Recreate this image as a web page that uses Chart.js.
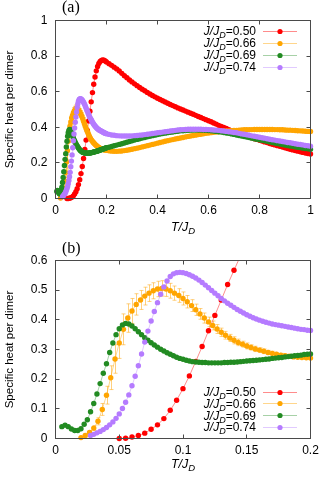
<!DOCTYPE html>
<html><head><meta charset="utf-8">
<script src="https://cdn.jsdelivr.net/npm/chart.js@4/dist/chart.umd.min.js"></script>
<style>
html,body{margin:0;padding:0;background:#fff;}
#wrap{position:relative;width:327px;height:484px;overflow:hidden;}
canvas{position:absolute;left:0;}
#ca{top:0;width:327px;height:242px;}
#cb{top:242px;width:327px;height:242px;}
</style></head><body>
<div id="wrap"><canvas id="ca" width="327" height="242"></canvas><canvas id="cb" width="327" height="242"></canvas></div>
<script>
// ---------- legend / series names ----------
const RATIOS = ['0.50', '0.66', '0.69', '0.74'];

// ---------- panel (b): low temperature data ----------
const T_B_RED = [0.050,0.055,0.060,0.065,0.070,0.075,0.080,0.085,0.090,0.095,0.100,0.105,0.110,0.115,0.120,0.125,0.130,0.135,0.140,0.145];
const C_B_RED = [0.000,0.001,0.005,0.010,0.018,0.031,0.046,0.067,0.095,0.129,0.168,0.211,0.260,0.310,0.363,0.415,0.467,0.519,0.567,0.615];

const T_B_ORA = [0.0200,0.0233,0.0267,0.0300,0.0333,0.0367,0.0400,0.0433,0.0467,0.0500,0.0533,0.0567,0.0600,0.0633,0.0667,0.0700,0.0733,0.0767,0.0800,0.0833,0.0867,0.0900,0.0933,0.0967,0.1000,0.1033,0.1067,0.1100,0.1133,0.1167,0.1200,0.1233,0.1267,0.1300,0.1333,0.1367,0.1400,0.1433,0.1467,0.1500,0.1533,0.1567,0.1600,0.1633,0.1667,0.1700,0.1733,0.1767,0.1800,0.1833,0.1867,0.1900,0.1933,0.1967,0.2000];
const C_B_ORA = [0.003,0.010,0.020,0.035,0.058,0.098,0.146,0.205,0.268,0.322,0.368,0.406,0.430,0.452,0.467,0.480,0.490,0.498,0.504,0.506,0.504,0.498,0.490,0.482,0.472,0.461,0.448,0.434,0.420,0.406,0.393,0.381,0.369,0.358,0.348,0.339,0.331,0.324,0.318,0.312,0.307,0.302,0.298,0.294,0.290,0.287,0.284,0.281,0.279,0.277,0.275,0.274,0.273,0.272,0.271];
const E_B_ORA = [0.004,0.005,0.006,0.008,0.012,0.020,0.030,0.040,0.048,0.052,0.052,0.048,0.042,0.036,0.032,0.030,0.028,0.027,0.026,0.026,0.025,0.025,0.024,0.023,0.022,0.021,0.020,0.019,0.018,0.017,0.016,0.015,0.015,0.014,0.013,0.012,0.012,0.011,0.010,0.010,0.009,0.009,0.008,0.008,0.007,0.007,0.006,0.006,0.006,0.005,0.005,0.005,0.004,0.004,0.004];

const T_B_GRN = [0.0050,0.0075,0.0100,0.0125,0.0150,0.0175,0.0200,0.0225,0.0250,0.0275,0.0300,0.0325,0.0350,0.0375,0.0400,0.0425,0.0450,0.0475,0.0500,0.0525,0.0550,0.0575,0.0600,0.0625,0.0650,0.0675,0.0700,0.0725,0.0750,0.0775,0.0800,0.0825,0.0850,0.0875,0.0900,0.0925,0.0950,0.0975,0.1000,0.1025,0.1050,0.1075,0.1100,0.1125,0.1150,0.1175,0.1200,0.1225,0.1250,0.1275,0.1300,0.1325,0.1350,0.1375,0.1400,0.1425,0.1450,0.1475,0.1500,0.1525,0.1550,0.1575,0.1600,0.1625,0.1650,0.1675,0.1700,0.1725,0.1750,0.1775,0.1800,0.1825,0.1850,0.1875,0.1900,0.1925,0.1950,0.1975,0.2000];
const C_B_GRN = [0.040,0.045,0.040,0.032,0.027,0.027,0.033,0.048,0.063,0.090,0.118,0.150,0.185,0.220,0.252,0.290,0.322,0.350,0.370,0.383,0.388,0.386,0.379,0.370,0.360,0.350,0.340,0.331,0.323,0.315,0.308,0.301,0.295,0.289,0.284,0.279,0.274,0.270,0.267,0.264,0.261,0.259,0.258,0.257,0.256,0.256,0.255,0.255,0.255,0.255,0.255,0.256,0.256,0.257,0.257,0.258,0.259,0.260,0.261,0.262,0.263,0.264,0.265,0.266,0.267,0.268,0.270,0.271,0.272,0.273,0.275,0.276,0.277,0.279,0.280,0.281,0.283,0.284,0.285];

const T_B_PUR = [0.0275,0.0300,0.0325,0.0350,0.0375,0.0400,0.0425,0.0450,0.0475,0.0500,0.0525,0.0550,0.0575,0.0600,0.0625,0.0650,0.0675,0.0700,0.0725,0.0750,0.0775,0.0800,0.0825,0.0850,0.0875,0.0900,0.0925,0.0950,0.0975,0.1000,0.1025,0.1050,0.1075,0.1100,0.1125,0.1150,0.1175,0.1200,0.1225,0.1250,0.1275,0.1300,0.1325,0.1350,0.1375,0.1400,0.1425,0.1450,0.1475,0.1500,0.1525,0.1550,0.1575,0.1600,0.1625,0.1650,0.1675,0.1700,0.1725,0.1750,0.1775,0.1800,0.1825,0.1850,0.1875,0.1900,0.1925,0.1950,0.1975,0.2000];
const C_B_PUR = [0.010,0.014,0.019,0.024,0.030,0.037,0.046,0.056,0.068,0.083,0.101,0.122,0.147,0.178,0.210,0.245,0.285,0.325,0.362,0.396,0.428,0.458,0.486,0.511,0.531,0.546,0.555,0.559,0.560,0.559,0.556,0.552,0.547,0.541,0.534,0.526,0.517,0.508,0.499,0.490,0.481,0.472,0.464,0.456,0.449,0.442,0.435,0.429,0.423,0.417,0.412,0.407,0.403,0.399,0.395,0.392,0.389,0.386,0.384,0.382,0.380,0.378,0.376,0.374,0.372,0.370,0.368,0.367,0.365,0.364];

// ---------- panel (a): full temperature range ----------
const T_A_RED = [0.045,0.050,0.055,0.060,0.065,0.070,0.075,0.080,0.085,0.090,0.095,0.100,0.105,0.110,0.115,0.120,0.125,0.130,0.135,0.140,0.145,0.150,0.155,0.160,0.165,0.170,0.175,0.180,0.185,0.190,0.195,0.200];
const C_A_RED = [0.000,0.000,0.002,0.004,0.008,0.015,0.025,0.038,0.055,0.078,0.106,0.140,0.180,0.225,0.275,0.328,0.382,0.436,0.490,0.543,0.595,0.642,0.683,0.717,0.742,0.759,0.770,0.776,0.778,0.777,0.773,0.767];

const T_A_HI = [0.21,0.22,0.23,0.24,0.25,0.26,0.27,0.28,0.29,0.30,0.31,0.32,0.33,0.34,0.35,0.36,0.37,0.38,0.39,0.40,0.41,0.42,0.43,0.44,0.45,0.46,0.47,0.48,0.49,0.50,0.51,0.52,0.53,0.54,0.55,0.56,0.57,0.58,0.59,0.60,0.61,0.62,0.63,0.64,0.65,0.66,0.67,0.68,0.69,0.70,0.71,0.72,0.73,0.74,0.75,0.76,0.77,0.78,0.79,0.80,0.81,0.82,0.83,0.84,0.85,0.86,0.87,0.88,0.89,0.90,0.91,0.92,0.93,0.94,0.95,0.96,0.97,0.98,0.99,1.00];
const C_A_RED_HI = [0.757,0.748,0.738,0.728,0.716,0.703,0.690,0.678,0.666,0.655,0.644,0.634,0.624,0.614,0.605,0.596,0.587,0.579,0.571,0.563,0.556,0.549,0.542,0.535,0.528,0.522,0.516,0.509,0.503,0.497,0.491,0.485,0.479,0.473,0.467,0.461,0.455,0.449,0.443,0.437,0.431,0.424,0.418,0.411,0.405,0.399,0.393,0.387,0.381,0.375,0.370,0.365,0.360,0.355,0.350,0.345,0.341,0.336,0.332,0.327,0.323,0.318,0.314,0.309,0.305,0.301,0.297,0.293,0.289,0.285,0.281,0.277,0.273,0.270,0.266,0.263,0.259,0.256,0.253,0.250];
const C_A_ORA_HI = [0.268,0.266,0.265,0.265,0.266,0.267,0.269,0.271,0.274,0.277,0.280,0.283,0.286,0.290,0.293,0.297,0.300,0.304,0.307,0.311,0.315,0.318,0.322,0.325,0.328,0.331,0.334,0.337,0.340,0.343,0.346,0.349,0.351,0.354,0.356,0.359,0.361,0.364,0.366,0.368,0.370,0.372,0.373,0.375,0.376,0.378,0.379,0.380,0.381,0.382,0.383,0.384,0.385,0.386,0.386,0.387,0.387,0.388,0.388,0.388,0.388,0.388,0.388,0.388,0.388,0.387,0.387,0.386,0.386,0.385,0.384,0.384,0.383,0.382,0.381,0.380,0.379,0.378,0.377,0.376];
const C_A_GRN_HI = [0.288,0.292,0.296,0.300,0.304,0.308,0.312,0.316,0.320,0.324,0.328,0.332,0.336,0.340,0.343,0.347,0.350,0.353,0.356,0.359,0.362,0.365,0.367,0.370,0.372,0.374,0.376,0.378,0.380,0.381,0.382,0.383,0.384,0.385,0.385,0.385,0.385,0.384,0.383,0.382,0.381,0.379,0.377,0.375,0.373,0.371,0.368,0.366,0.363,0.360,0.357,0.354,0.351,0.348,0.345,0.342,0.339,0.336,0.333,0.330,0.327,0.324,0.321,0.318,0.315,0.312,0.309,0.306,0.303,0.300,0.298,0.295,0.293,0.290,0.288,0.286,0.283,0.281,0.279,0.277];
const C_A_PUR_HI = [0.360,0.357,0.355,0.353,0.352,0.351,0.351,0.351,0.351,0.352,0.353,0.354,0.356,0.357,0.359,0.361,0.363,0.365,0.367,0.369,0.371,0.373,0.375,0.377,0.379,0.381,0.383,0.385,0.386,0.387,0.388,0.389,0.389,0.389,0.389,0.389,0.389,0.388,0.388,0.387,0.386,0.385,0.384,0.383,0.381,0.379,0.377,0.375,0.373,0.371,0.369,0.366,0.363,0.361,0.358,0.355,0.352,0.350,0.347,0.344,0.341,0.339,0.336,0.333,0.330,0.328,0.325,0.323,0.320,0.318,0.315,0.313,0.310,0.308,0.305,0.303,0.301,0.298,0.296,0.294];

// ---------- tick values ----------
const X_TICKS_A = [0, 0.2, 0.4, 0.6, 0.8, 1];
const Y_TICKS_A = [0, 0.2, 0.4, 0.6, 0.8, 1];
const X_TICKS_B = [0, 0.05, 0.1, 0.15, 0.2];
const Y_TICKS_B = [0, 0.1, 0.2, 0.3, 0.4, 0.5, 0.6];

// ---------- styling ----------
const FONT = "'Liberation Sans', Arial, sans-serif";
const COLORS = ['#ff0000', '#ffa500', '#228b22', '#b57bff'];
const PALE = ['rgba(255,0,0,0.45)', 'rgba(255,165,0,0.45)', 'rgba(34,139,34,0.4)', 'rgba(181,123,255,0.4)'];
const ERRC = 'rgba(255,170,20,0.55)';

function zip(xs, ys) { return xs.map((x, i) => ({x: x, y: ys[i]})); }
function fmt(v) { return String(+(+v).toFixed(3)); }

const errPlugin = {
  id: 'errbars',
  beforeDatasetsDraw(chart) {
    const {ctx, chartArea: a, scales: {x, y}} = chart;
    const cap = chart.options.plugins.gp.cap;
    ctx.save();
    ctx.beginPath(); ctx.rect(a.left, a.top, a.right - a.left, a.bottom - a.top); ctx.clip();
    chart.data.datasets.forEach(ds => {
      if (!ds.errors) return;
      ctx.strokeStyle = ERRC; ctx.lineWidth = 1;
      ctx.beginPath();
      ds.errors.forEach((e, j) => {
        const p = ds.data[j];
        const px = Math.round(x.getPixelForValue(p.x)) + 0.5;
        const y1 = y.getPixelForValue(p.y - e), y2 = y.getPixelForValue(p.y + e);
        ctx.moveTo(px, y1); ctx.lineTo(px, y2);
        ctx.moveTo(px - cap, y1); ctx.lineTo(px + cap, y1);
        ctx.moveTo(px - cap, y2); ctx.lineTo(px + cap, y2);
      });
      ctx.stroke();
    });
    ctx.restore();
  }
};

function drawLabel(ctx, parts, xRight, yBase) {
  let w = 0;
  parts.forEach(p => { ctx.font = p.font; p.w = ctx.measureText(p.t).width; w += p.w; });
  let cx = xRight - w;
  parts.forEach(p => { ctx.font = p.font; ctx.fillText(p.t, cx, yBase + (p.dy || 0)); cx += p.w; });
  return w;
}

const gpPlugin = {
  id: 'gp',
  afterDatasetsDraw(chart) {
    const {ctx, chartArea: a, scales: {x, y}} = chart;
    const o = chart.options.plugins.gp;
    ctx.save();
    ctx.strokeStyle = '#4a4a4a'; ctx.lineWidth = 1;
    ctx.strokeRect(a.left, a.top, a.right - a.left, a.bottom - a.top);
    const L = 4;
    ctx.beginPath();
    o.xt.forEach(v => {
      const px = Math.round(x.getPixelForValue(v) - 0.5) + 0.5;
      ctx.moveTo(px, a.bottom); ctx.lineTo(px, a.bottom - L);
      ctx.moveTo(px, a.top); ctx.lineTo(px, a.top + L);
    });
    o.yt.forEach(v => {
      const py = Math.round(y.getPixelForValue(v) - 0.5) + 0.5;
      ctx.moveTo(a.left, py); ctx.lineTo(a.left + L, py);
      ctx.moveTo(a.right, py); ctx.lineTo(a.right - L, py);
    });
    ctx.stroke();

    ctx.fillStyle = '#000';
    ctx.textBaseline = 'alphabetic';
    ctx.font = "16px 'Liberation Serif', 'Times New Roman', serif";
    ctx.textAlign = 'left';
    ctx.fillText(o.tag, o.tagX, o.tagY);
    const parts = [
      {t: 'T/J', font: 'italic 12.5px ' + FONT},
      {t: 'D', font: 'italic 9.5px ' + FONT, dy: 3}
    ];
    let w = 0;
    parts.forEach(p => { ctx.font = p.font; w += ctx.measureText(p.t).width; });
    drawLabel(ctx, parts, (a.left + a.right) / 2 + w / 2, o.xtY);

    RATIOS.forEach((r, i) => {
      const yc = o.legY + i * o.legDy;
      drawLabel(ctx, [
        {t: 'J/J', font: 'italic 12px ' + FONT},
        {t: 'D', font: 'italic 9px ' + FONT, dy: 3},
        {t: '=' + r, font: '12px ' + FONT}
      ], 256, yc + 4.5);
      ctx.strokeStyle = PALE[i]; ctx.lineWidth = 1;
      ctx.beginPath(); ctx.moveTo(263, Math.round(yc) + 0.5); ctx.lineTo(297, Math.round(yc) + 0.5); ctx.stroke();
      ctx.fillStyle = COLORS[i];
      ctx.beginPath(); ctx.arc(280, Math.round(yc) + 0.5, o.r, 0, Math.PI * 2); ctx.fill();
      ctx.fillStyle = '#000';
    });
    ctx.restore();
  }
};

function ds(i, data, r, extra) {
  return Object.assign({
    label: 'J/J_D=' + RATIOS[i],
    data: data,
    showLine: true,
    borderColor: PALE[i],
    borderWidth: 1,
    backgroundColor: COLORS[i],
    pointBackgroundColor: COLORS[i],
    pointBorderWidth: 0,
    pointRadius: r,
    pointHoverRadius: r,
    tension: 0,
    clip: 6,
    order: 4 - i
  }, extra || {});
}

function makeChart(id, datasets, p) {
  return new Chart(document.getElementById(id), {
    type: 'line',
    data: {datasets: datasets},
    options: {
      responsive: false, animation: false, events: [],
      layout: {padding: {left: 0, right: 16.5, top: p.top, bottom: 0}},
      plugins: {legend: {display: false}, tooltip: {enabled: false}, gp: p},
      scales: {
        x: {
          type: 'linear', min: 0, max: p.xmax,
          afterFit: s => { s.height = p.xh; },
          afterBuildTicks: s => { s.ticks = p.xt.map(v => ({value: v})); },
          grid: {display: false, drawTicks: false}, border: {display: false},
          ticks: {padding: p.xpad, color: '#000', font: {family: FONT, size: 12}, maxRotation: 0, autoSkip: false, callback: fmt}
        },
        y: {
          type: 'linear', min: 0, max: p.ymax,
          afterFit: s => { s.width = 55.5; },
          afterBuildTicks: s => { s.ticks = p.yt.map(v => ({value: v})); },
          grid: {display: false, drawTicks: false}, border: {display: false},
          ticks: {padding: 8, color: '#000', font: {family: FONT, size: 12}, autoSkip: false, callback: fmt},
          title: {display: true, text: 'Specific heat per dimer', color: '#000', font: {family: FONT, size: 11.5}, padding: {top: 3, bottom: 0}}
        }
      }
    },
    plugins: [errPlugin, gpPlugin]
  });
}

// ---------- panel (a) ----------
const rA = 2.7;
makeChart('ca', [
  ds(0, zip(T_A_RED.concat(T_A_HI), C_A_RED.concat(C_A_RED_HI)), rA),
  ds(1, zip(T_B_ORA.concat(T_A_HI), C_B_ORA.concat(C_A_ORA_HI)), rA, {errors: E_B_ORA}),
  ds(2, zip(T_B_GRN.concat(T_A_HI), C_B_GRN.concat(C_A_GRN_HI)), rA),
  ds(3, zip(T_B_PUR.concat(T_A_HI), C_B_PUR.concat(C_A_PUR_HI)), rA)
], {top: 20.5, xh: 43.5, xpad: 5, xmax: 1, ymax: 1, xt: X_TICKS_A, yt: Y_TICKS_A,
    tag: '(a)', tagX: 62, tagY: 12, xtY: 231, legY: 30.7, legDy: 12, r: 2.6, cap: 1.5});

// ---------- panel (b) ----------
const rB = 2.7;
makeChart('cb', [
  ds(0, zip(T_B_RED, C_B_RED), rB, {clip: {left: 6, right: 6, bottom: 6, top: 0}}),
  ds(1, zip(T_B_ORA, C_B_ORA), rB, {errors: E_B_ORA}),
  ds(2, zip(T_B_GRN, C_B_GRN), rB),
  ds(3, zip(T_B_PUR, C_B_PUR), rB)
], {top: 18.5, xh: 45.5, xpad: 5, xmax: 0.2, ymax: 0.6, xt: X_TICKS_B, yt: Y_TICKS_B,
    tag: '(b)', tagX: 62, tagY: 11, xtY: 226, legY: 149.7, legDy: 11.7, r: 2.6, cap: 2});
</script></body></html>
